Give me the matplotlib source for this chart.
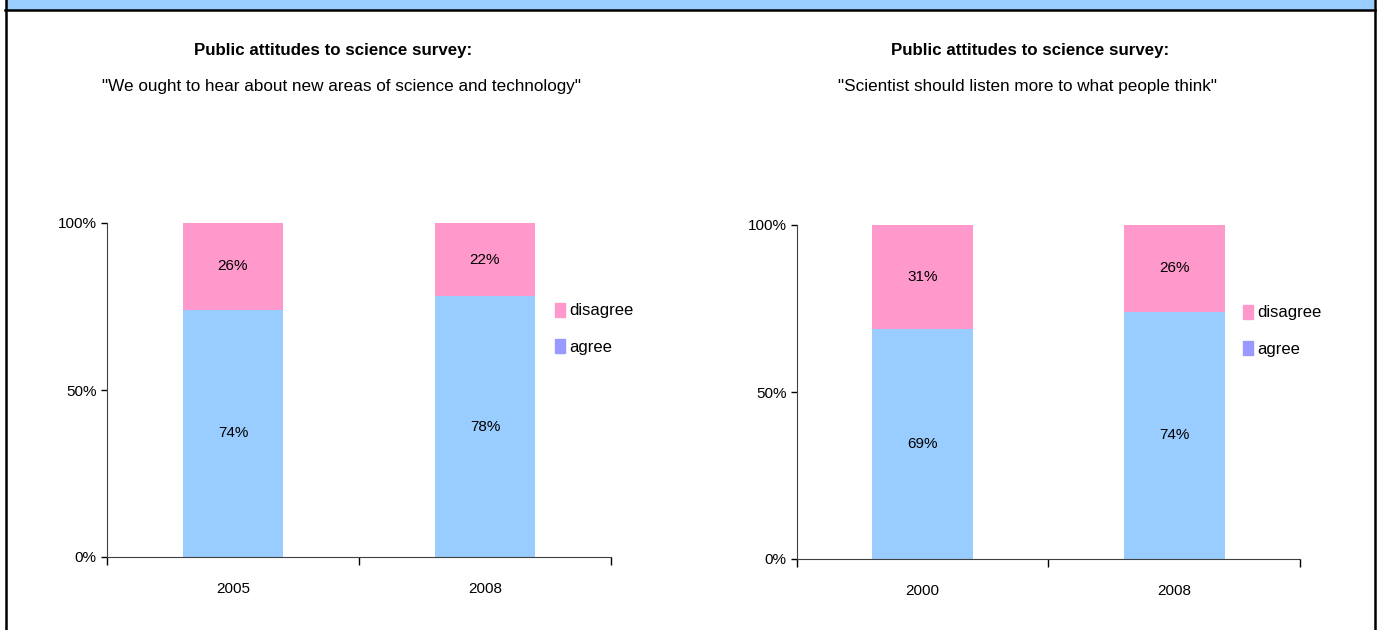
import matplotlib.pyplot as plt
from matplotlib.patches import Patch, Rectangle
from matplotlib.lines import Line2D

# Data
title_main = "Public attitudes to science survey:"
left_quote = '"We ought to hear about new areas of science and technology"'
left_years = ["2005", "2008"]
left_agree = [74, 78]
left_disagree = [26, 22]

right_quote = '"Scientist should listen more to what people think"'
right_years = ["2000", "2008"]
right_agree = [69, 74]
right_disagree = [31, 26]

pink = "#FF99CC"
blue = "#99CCFF"
legend_blue = "#9999FF"

plt.rcParams['font.family'] = ['Liberation Sans', 'DejaVu Sans']

W, H = 1381, 630
fig = plt.figure(figsize=(W / 100, H / 100), dpi=100)


def px(x, y, w, h):
    # pixel box (left, top) -> figure fraction
    return [x / W, 1 - (y + h) / H, w / W, h / H]


def stacked(ax, years, agree, disagree):
    x = range(len(years))
    ax.bar(x, agree, width=0.4, color=blue)
    ax.bar(x, disagree, width=0.4, bottom=agree, color=pink)
    for i in x:
        ax.text(i, agree[i] / 2, f"{agree[i]}%", ha='center', va='center', fontsize=11)
        ax.text(i, agree[i] + disagree[i] / 2, f"{disagree[i]}%", ha='center', va='center', fontsize=11)
    ax.set_xlim(-0.5, len(years) - 0.5)
    ax.set_ylim(0, 100)
    ax.set_yticks([0, 50, 100])
    ax.set_yticklabels(["0%", "50%", "100%"])
    # category boundary ticks, year labels in between
    ax.set_xticks([-0.5, 0.5, 1.5], minor=False)
    ax.set_xticklabels([])
    ax.set_xticks(list(x), minor=True)
    ax.set_xticklabels(years, minor=True)
    ax.tick_params(axis='x', which='major', length=6, width=1, direction='out')
    ax.tick_params(axis='x', which='minor', length=0, pad=18, labelsize=11)
    ax.tick_params(axis='y', length=4, width=1, direction='out', labelsize=11)
    for s in ['top', 'right']:
        ax.spines[s].set_visible(False)
    ax.spines['left'].set_color('#404040')
    ax.spines['bottom'].set_color('#404040')


axL = fig.add_axes(px(107, 223, 504, 334))
stacked(axL, left_years, left_agree, left_disagree)
axR = fig.add_axes(px(797, 225, 503, 334))
stacked(axR, right_years, right_agree, right_disagree)

# titles
for cx, qx, quote in [(333, 341, left_quote), (1030, 1028, right_quote)]:
    fig.text(cx / W, 1 - 50 / H, title_main, ha='center', va='center',
             fontsize=12.2, fontweight='bold')
    fig.text(qx / W, 1 - 86 / H, quote, ha='center', va='center', fontsize=12.3)

# legends
handles = [Patch(color=pink, label='disagree'), Patch(color=legend_blue, label='agree')]
for lx, ly in [(548, 296), (1236, 298)]:
    fig.legend(handles=handles, loc='upper left', bbox_to_anchor=(lx / W, 1 - ly / H),
               frameon=False, fontsize=12, handlelength=0.6, handleheight=0.9,
               handletextpad=0.3, labelspacing=1.25, borderaxespad=0)

# frame and top band
fig.patches.append(Rectangle((6 / W, 1 - 10 / H), 1368 / W, 10 / H, transform=fig.transFigure,
                             facecolor=blue, edgecolor='none'))
fig.lines.append(Line2D([5 / W, 1375 / W], [1 - 10 / H] * 2, transform=fig.transFigure,
                        color='black', lw=1.8))
fig.lines.append(Line2D([5.5 / W] * 2, [0, 1], transform=fig.transFigure, color='black', lw=1.8))
fig.lines.append(Line2D([1374.5 / W] * 2, [0, 1], transform=fig.transFigure, color='black', lw=1.8))

fig.savefig("out.png", dpi=100)
